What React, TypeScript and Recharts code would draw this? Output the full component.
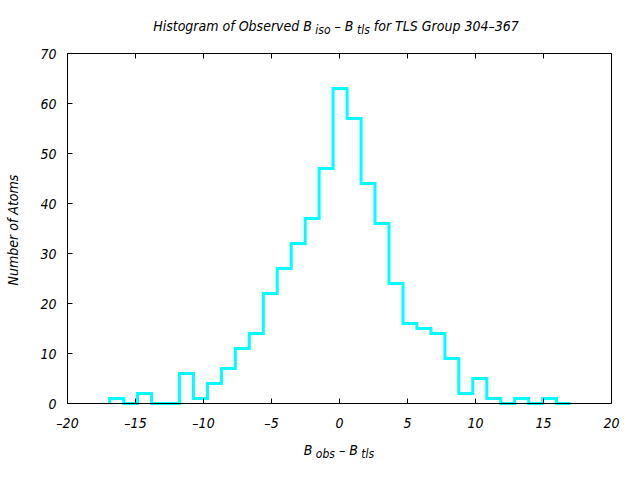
import { LineChart, Line, XAxis, YAxis } from "recharts";

// left edge of each histogram bin (B_obs - B_tls), last entry closes the final bin
const binEdges = [
  -16.9, -15.87, -14.85, -13.82, -12.79, -11.77, -10.74, -9.71, -8.68, -7.66,
  -6.63, -5.6, -4.58, -3.55, -2.52, -1.5, -0.47, 0.56, 1.59, 2.61, 3.64, 4.67,
  5.69, 6.72, 7.75, 8.77, 9.8, 10.83, 11.86, 12.88, 13.91, 14.94, 15.96, 16.99,
];
// number of atoms in each bin
const counts = [
  1, 0, 2, 0, 0, 6, 1, 4, 7, 11, 14, 22, 27, 32, 37, 47, 63, 57, 44, 36, 24, 16,
  15, 14, 9, 2, 5, 1, 0, 1, 0, 1, 0,
];
const xTicks = [-20, -15, -10, -5, 0, 5, 10, 15, 20];
const yTicks = [0, 10, 20, 30, 40, 50, 60, 70];

const FONT = "'DejaVu Sans Condensed', 'DejaVu Sans', sans-serif";
const DASH = "\u2013";

const stepData = [
  { x: binEdges[0], y: 0 },
  ...counts.map((c, i) => ({ x: binEdges[i], y: c })),
  { x: binEdges[binEdges.length - 1], y: 0 },
];

const BottomTick = (props: any) => {
  const { x, y, payload } = props;
  return (
    <g>
      <line x1={x} x2={x} y1={y} y2={y - 5} stroke="#000" />
      <text x={x} y={y + 24} textAnchor="middle" fontSize={14} fontStyle="italic" fontFamily={FONT} fill="#000">
        {String(payload.value).replace("-", DASH)}
      </text>
    </g>
  );
};

const TopTick = (props: any) => {
  const { x, y } = props;
  return <line x1={x} x2={x} y1={y} y2={y + 5} stroke="#000" />;
};

const LeftTick = (props: any) => {
  const { x, y, payload } = props;
  return (
    <g>
      <line x1={x} x2={x + 5} y1={y} y2={y} stroke="#000" />
      <text x={x - 11} y={y + 5} textAnchor="end" fontSize={14} fontStyle="italic" fontFamily={FONT} fill="#000">
        {payload.value}
      </text>
    </g>
  );
};

const RightTick = (props: any) => {
  const { x, y } = props;
  return <line x1={x} x2={x - 5} y1={y} y2={y} stroke="#000" />;
};

export default function App() {
  return (
    <div style={{ position: "absolute", left: 0, top: 0, width: 640, height: 480, background: "#fff" }}>
      <LineChart
        width={640}
        height={480}
        data={stepData}
        margin={{ top: 52.5, right: 27.5, bottom: 75.5, left: 66.5 }}
      >
        <XAxis
          xAxisId="b"
          dataKey="x"
          type="number"
          domain={[-20, 20]}
          ticks={xTicks}
          height={1}
          tickSize={0}
          tickMargin={0}
          tickLine={false}
          axisLine={{ stroke: "#000" }}
          tick={<BottomTick />}
          interval={0}
        />
        <XAxis
          xAxisId="t"
          orientation="top"
          dataKey="x"
          type="number"
          domain={[-20, 20]}
          ticks={xTicks}
          height={1}
          tickSize={0}
          tickMargin={0}
          tickLine={false}
          axisLine={{ stroke: "#000" }}
          tick={<TopTick />}
          interval={0}
        />
        <YAxis
          yAxisId="l"
          type="number"
          domain={[0, 70]}
          ticks={yTicks}
          width={1}
          tickSize={0}
          tickMargin={0}
          tickLine={false}
          axisLine={{ stroke: "#000" }}
          tick={<LeftTick />}
          interval={0}
        />
        <YAxis
          yAxisId="r"
          orientation="right"
          type="number"
          domain={[0, 70]}
          ticks={yTicks}
          width={1}
          tickSize={0}
          tickMargin={0}
          tickLine={false}
          axisLine={{ stroke: "#000" }}
          tick={<RightTick />}
          interval={0}
        />
        <Line
          xAxisId="b"
          yAxisId="l"
          type="stepAfter"
          dataKey="y"
          stroke="#00ffff"
          strokeWidth={3}
          dot={false}
          isAnimationActive={false}
        />
      </LineChart>
      <svg
        width={640}
        height={480}
        style={{ position: "absolute", left: 0, top: 0, pointerEvents: "none" }}
        fontFamily={FONT}
        fontStyle="italic"
        fontSize={14}
      >
        <text x={336} y={31} textAnchor="middle" fill="#000">
          Histogram of Observed B
          <tspan dy={3} fontSize={12}> iso</tspan>
          <tspan dy={-3}>  {DASH} B</tspan>
          <tspan dy={3} fontSize={12}> tls</tspan>
          <tspan dy={-3}>  for TLS Group 304{DASH}367</tspan>
        </text>
        <text x={339} y={455} textAnchor="middle" fill="#000">
          B<tspan dy={3} fontSize={12}> obs</tspan>
          <tspan dy={-3}>  {DASH} B</tspan>
          <tspan dy={3} fontSize={12}> tls</tspan>
        </text>
        <text x={18} y={230} textAnchor="middle" fill="#000" transform="rotate(-90 18 230)">
          Number of Atoms
        </text>
      </svg>
    </div>
  );
}
